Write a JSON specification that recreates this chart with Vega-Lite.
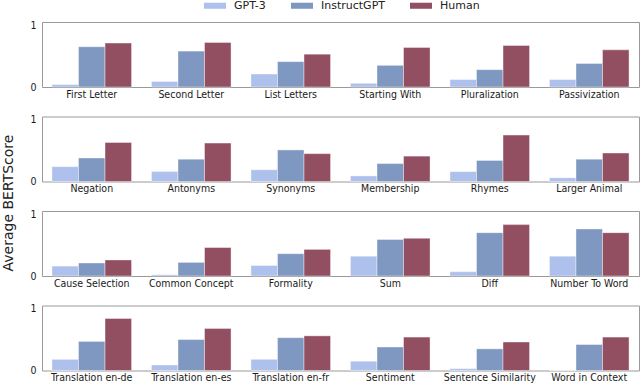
{
  "$schema": "https://vega.github.io/schema/vega-lite/v6.json",
  "padding": {"left": 1, "right": 2, "top": 0, "bottom": 1},
  "data": {"values": [
    {"panel": 1, "idx": 1, "task": "First Letter", "model": "GPT-3", "value": 0.04},
    {"panel": 1, "idx": 1, "task": "First Letter", "model": "InstructGPT", "value": 0.65},
    {"panel": 1, "idx": 1, "task": "First Letter", "model": "Human", "value": 0.71},
    {"panel": 1, "idx": 2, "task": "Second Letter", "model": "GPT-3", "value": 0.09},
    {"panel": 1, "idx": 2, "task": "Second Letter", "model": "InstructGPT", "value": 0.58},
    {"panel": 1, "idx": 2, "task": "Second Letter", "model": "Human", "value": 0.72},
    {"panel": 1, "idx": 3, "task": "List Letters", "model": "GPT-3", "value": 0.21},
    {"panel": 1, "idx": 3, "task": "List Letters", "model": "InstructGPT", "value": 0.41},
    {"panel": 1, "idx": 3, "task": "List Letters", "model": "Human", "value": 0.53},
    {"panel": 1, "idx": 4, "task": "Starting With", "model": "GPT-3", "value": 0.06},
    {"panel": 1, "idx": 4, "task": "Starting With", "model": "InstructGPT", "value": 0.35},
    {"panel": 1, "idx": 4, "task": "Starting With", "model": "Human", "value": 0.64},
    {"panel": 1, "idx": 5, "task": "Pluralization", "model": "GPT-3", "value": 0.12},
    {"panel": 1, "idx": 5, "task": "Pluralization", "model": "InstructGPT", "value": 0.28},
    {"panel": 1, "idx": 5, "task": "Pluralization", "model": "Human", "value": 0.67},
    {"panel": 1, "idx": 6, "task": "Passivization", "model": "GPT-3", "value": 0.12},
    {"panel": 1, "idx": 6, "task": "Passivization", "model": "InstructGPT", "value": 0.38},
    {"panel": 1, "idx": 6, "task": "Passivization", "model": "Human", "value": 0.60},
    {"panel": 2, "idx": 1, "task": "Negation", "model": "GPT-3", "value": 0.24},
    {"panel": 2, "idx": 1, "task": "Negation", "model": "InstructGPT", "value": 0.38},
    {"panel": 2, "idx": 1, "task": "Negation", "model": "Human", "value": 0.63},
    {"panel": 2, "idx": 2, "task": "Antonyms", "model": "GPT-3", "value": 0.16},
    {"panel": 2, "idx": 2, "task": "Antonyms", "model": "InstructGPT", "value": 0.36},
    {"panel": 2, "idx": 2, "task": "Antonyms", "model": "Human", "value": 0.62},
    {"panel": 2, "idx": 3, "task": "Synonyms", "model": "GPT-3", "value": 0.19},
    {"panel": 2, "idx": 3, "task": "Synonyms", "model": "InstructGPT", "value": 0.51},
    {"panel": 2, "idx": 3, "task": "Synonyms", "model": "Human", "value": 0.45},
    {"panel": 2, "idx": 4, "task": "Membership", "model": "GPT-3", "value": 0.09},
    {"panel": 2, "idx": 4, "task": "Membership", "model": "InstructGPT", "value": 0.29},
    {"panel": 2, "idx": 4, "task": "Membership", "model": "Human", "value": 0.41},
    {"panel": 2, "idx": 5, "task": "Rhymes", "model": "GPT-3", "value": 0.16},
    {"panel": 2, "idx": 5, "task": "Rhymes", "model": "InstructGPT", "value": 0.34},
    {"panel": 2, "idx": 5, "task": "Rhymes", "model": "Human", "value": 0.75},
    {"panel": 2, "idx": 6, "task": "Larger Animal", "model": "GPT-3", "value": 0.06},
    {"panel": 2, "idx": 6, "task": "Larger Animal", "model": "InstructGPT", "value": 0.36},
    {"panel": 2, "idx": 6, "task": "Larger Animal", "model": "Human", "value": 0.46},
    {"panel": 3, "idx": 1, "task": "Cause Selection", "model": "GPT-3", "value": 0.16},
    {"panel": 3, "idx": 1, "task": "Cause Selection", "model": "InstructGPT", "value": 0.21},
    {"panel": 3, "idx": 1, "task": "Cause Selection", "model": "Human", "value": 0.26},
    {"panel": 3, "idx": 2, "task": "Common Concept", "model": "GPT-3", "value": 0.02},
    {"panel": 3, "idx": 2, "task": "Common Concept", "model": "InstructGPT", "value": 0.22},
    {"panel": 3, "idx": 2, "task": "Common Concept", "model": "Human", "value": 0.46},
    {"panel": 3, "idx": 3, "task": "Formality", "model": "GPT-3", "value": 0.17},
    {"panel": 3, "idx": 3, "task": "Formality", "model": "InstructGPT", "value": 0.36},
    {"panel": 3, "idx": 3, "task": "Formality", "model": "Human", "value": 0.43},
    {"panel": 3, "idx": 4, "task": "Sum", "model": "GPT-3", "value": 0.32},
    {"panel": 3, "idx": 4, "task": "Sum", "model": "InstructGPT", "value": 0.59},
    {"panel": 3, "idx": 4, "task": "Sum", "model": "Human", "value": 0.61},
    {"panel": 3, "idx": 5, "task": "Diff", "model": "GPT-3", "value": 0.07},
    {"panel": 3, "idx": 5, "task": "Diff", "model": "InstructGPT", "value": 0.70},
    {"panel": 3, "idx": 5, "task": "Diff", "model": "Human", "value": 0.83},
    {"panel": 3, "idx": 6, "task": "Number To Word", "model": "GPT-3", "value": 0.32},
    {"panel": 3, "idx": 6, "task": "Number To Word", "model": "InstructGPT", "value": 0.76},
    {"panel": 3, "idx": 6, "task": "Number To Word", "model": "Human", "value": 0.70},
    {"panel": 4, "idx": 1, "task": "Translation en-de", "model": "GPT-3", "value": 0.18},
    {"panel": 4, "idx": 1, "task": "Translation en-de", "model": "InstructGPT", "value": 0.47},
    {"panel": 4, "idx": 1, "task": "Translation en-de", "model": "Human", "value": 0.84},
    {"panel": 4, "idx": 2, "task": "Translation en-es", "model": "GPT-3", "value": 0.09},
    {"panel": 4, "idx": 2, "task": "Translation en-es", "model": "InstructGPT", "value": 0.50},
    {"panel": 4, "idx": 2, "task": "Translation en-es", "model": "Human", "value": 0.68},
    {"panel": 4, "idx": 3, "task": "Translation en-fr", "model": "GPT-3", "value": 0.18},
    {"panel": 4, "idx": 3, "task": "Translation en-fr", "model": "InstructGPT", "value": 0.53},
    {"panel": 4, "idx": 3, "task": "Translation en-fr", "model": "Human", "value": 0.56},
    {"panel": 4, "idx": 4, "task": "Sentiment", "model": "GPT-3", "value": 0.15},
    {"panel": 4, "idx": 4, "task": "Sentiment", "model": "InstructGPT", "value": 0.38},
    {"panel": 4, "idx": 4, "task": "Sentiment", "model": "Human", "value": 0.54},
    {"panel": 4, "idx": 5, "task": "Sentence Similarity", "model": "GPT-3", "value": 0.03},
    {"panel": 4, "idx": 5, "task": "Sentence Similarity", "model": "InstructGPT", "value": 0.35},
    {"panel": 4, "idx": 5, "task": "Sentence Similarity", "model": "Human", "value": 0.46},
    {"panel": 4, "idx": 6, "task": "Word in Context", "model": "GPT-3", "value": 0.0},
    {"panel": 4, "idx": 6, "task": "Word in Context", "model": "InstructGPT", "value": 0.42},
    {"panel": 4, "idx": 6, "task": "Word in Context", "model": "Human", "value": 0.54}
  ]},
  "facet": {
    "row": {
      "field": "panel",
      "type": "ordinal",
      "header": {
        "labels": false,
        "title": "Average BERTScore",
        "titleFont": "DejaVu Sans",
        "titleFontSize": 14,
        "titleFontWeight": "normal",
        "titleColor": "#222222",
        "titlePadding": 3
      }
    }
  },
  "spacing": 15.5,
  "resolve": {"scale": {"x": "independent", "xOffset": "independent"}, "axis": {"x": "independent"}},
  "spec": {
    "width": 597,
    "height": 65,
    "mark": {"type": "bar", "stroke": "#ffffff", "strokeOpacity": 0.5, "strokeWidth": 0.8},
    "encoding": {
      "x": {
        "field": "task",
        "type": "nominal",
        "sort": {"field": "idx", "op": "min"},
        "scale": {"paddingInner": 0.2, "paddingOuter": 0.1},
        "axis": {
          "title": null,
          "labelAngle": 0,
          "ticks": false,
          "domain": false,
          "labelPadding": 2,
          "labelFont": "DejaVu Sans Condensed",
          "labelFontSize": 10.5,
          "labelColor": "#1a1a1a"
        }
      },
      "xOffset": {
        "field": "model",
        "type": "nominal",
        "sort": ["GPT-3", "InstructGPT", "Human"],
        "scale": {"paddingInner": 0, "paddingOuter": 0}
      },
      "y": {
        "field": "value",
        "type": "quantitative",
        "scale": {"domain": [0, 1.05], "nice": false},
        "axis": {
          "title": null,
          "values": [0, 1],
          "format": "d",
          "grid": false,
          "ticks": false,
          "domain": false,
          "labelPadding": 5,
          "labelFont": "DejaVu Sans Condensed",
          "labelFontSize": 10.5,
          "labelColor": "#1a1a1a"
        }
      },
      "color": {
        "field": "model",
        "type": "nominal",
        "sort": ["GPT-3", "InstructGPT", "Human"],
        "scale": {"domain": ["GPT-3", "InstructGPT", "Human"], "range": ["#aec0ec", "#7f98c1", "#934f62"]},
        "legend": {
          "title": null,
          "orient": "none",
          "legendX": 167.5,
          "legendY": -22,
          "direction": "horizontal",
          "symbolType": "M-2,-0.55H2V0.55H-2Z",
          "symbolSize": 121,
          "symbolStrokeWidth": 0,
          "labelFont": "DejaVu Sans",
          "labelFontSize": 11,
          "labelColor": "#222222",
          "labelOffset": 13.5,
          "columnPadding": 24
        }
      }
    }
  },
  "config": {
    "view": {"stroke": "#999999", "strokeWidth": 1}
  }
}
